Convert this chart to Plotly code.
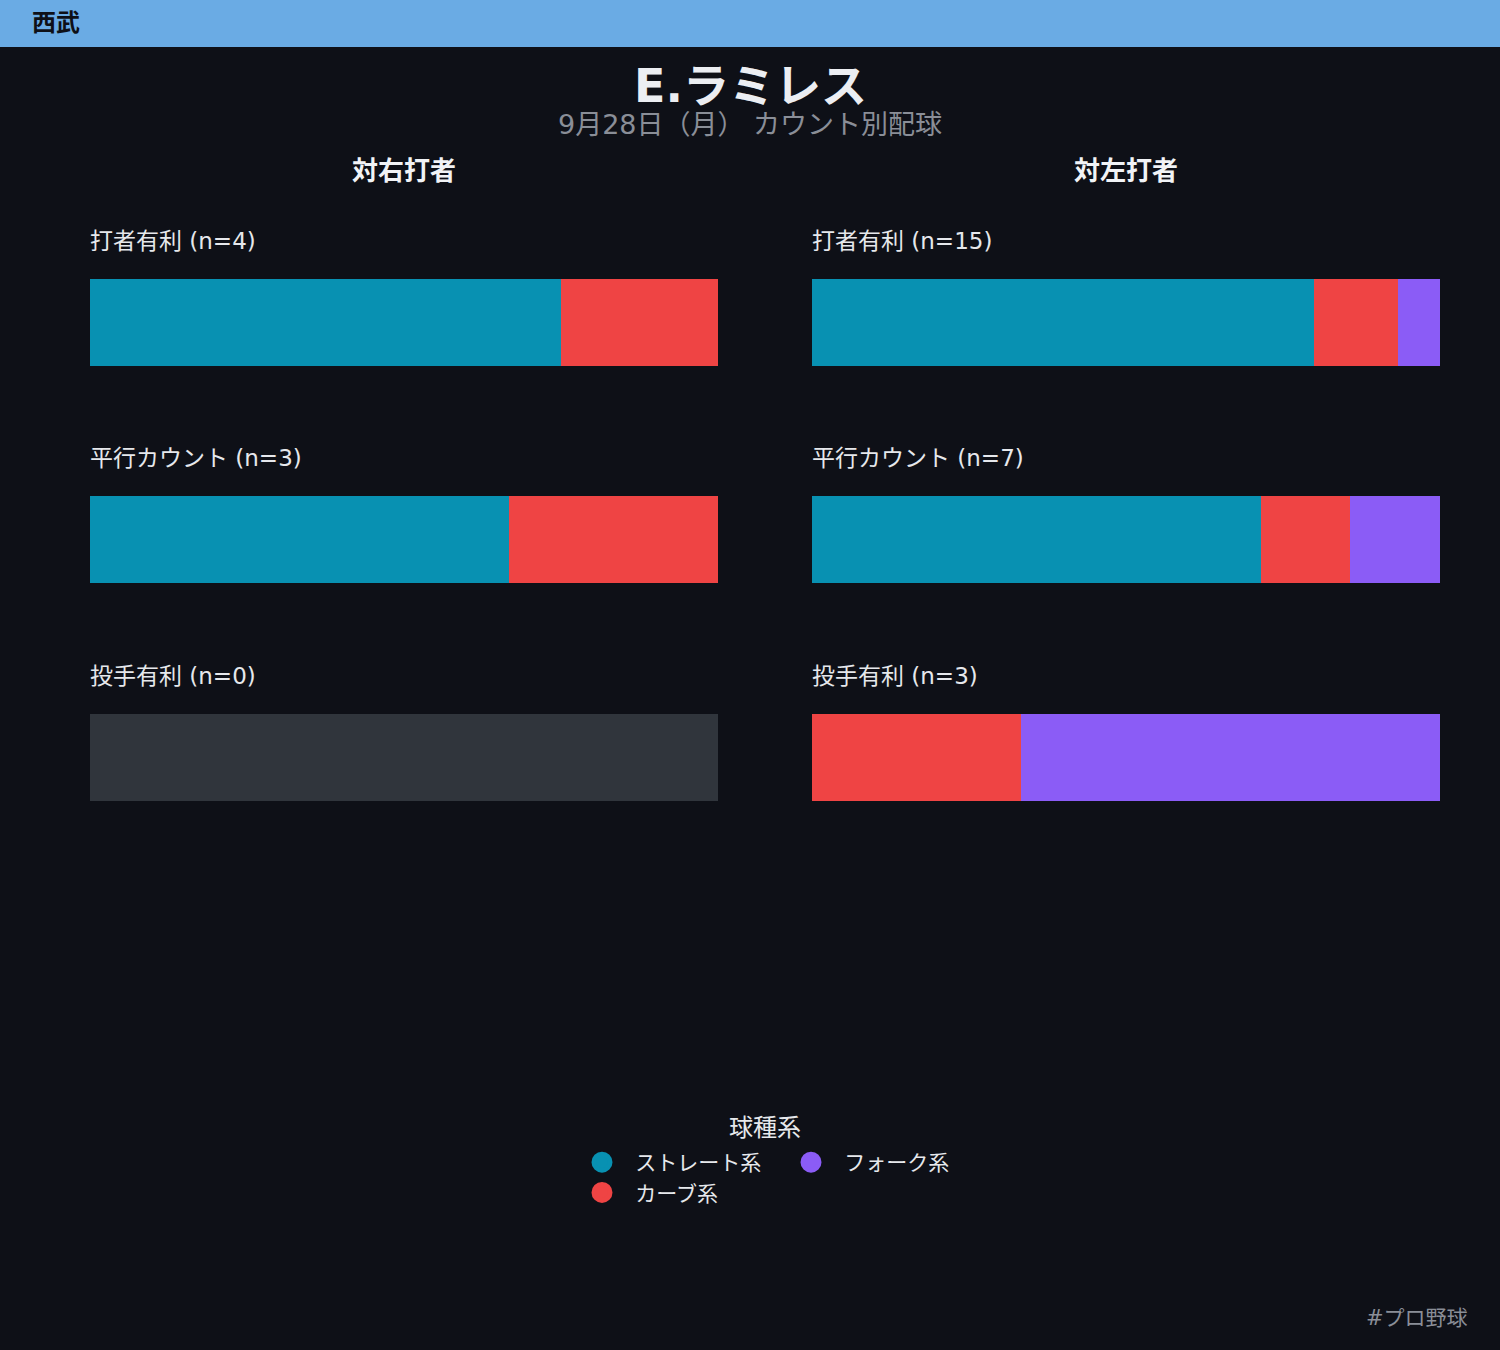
import plotly.graph_objects as go

# pitch counts by count situation (straight / curve / fork)
situations = ["打者有利", "平行カウント", "投手有利"]
pitch_types = ["ストレート系", "カーブ系", "フォーク系"]
colors = ["#0891b2", "#ef4444", "#8b5cf6"]

vs_right = [[3, 1, 0], [2, 1, 0], [0, 0, 0]]
vs_left = [[12, 2, 1], [5, 1, 1], [0, 1, 2]]

sides = ["対右打者", "対左打者"]
side_data = [vs_right, vs_left]

W, H = 1500, 1350
BG = "#0e1017"
FONT = "DejaVu Sans, Noto Sans CJK JP, sans-serif"

col_px = [(90, 718), (812, 1440)]
row_px = [(279, 366), (496, 583), (714, 801)]

fig = go.Figure()
layout = {}
annotations = []

k = 0
for c, data in enumerate(side_data):
    x0, x1 = col_px[c]
    annotations.append(dict(
        x=(x0 + x1) / 2 / W, y=1 - 171 / H, xref="paper", yref="paper",
        text="<b>" + sides[c] + "</b>", showarrow=False,
        font=dict(size=26, color="#f1f3f6"), xanchor="center", yanchor="middle"))
    for r, counts in enumerate(data):
        k += 1
        xa = "x" if k == 1 else f"x{k}"
        ya = "y" if k == 1 else f"y{k}"
        y0, y1 = row_px[r]
        n = sum(counts)
        if n == 0:
            fig.add_trace(go.Bar(x=[1], y=[0], orientation="h", width=1,
                                 marker=dict(color="#30353c", line_width=0),
                                 xaxis=xa, yaxis=ya, showlegend=False,
                                 hoverinfo="skip"))
        else:
            for i, cnt in enumerate(counts):
                if cnt == 0:
                    continue
                fig.add_trace(go.Bar(x=[cnt / n], y=[0], orientation="h", width=1,
                                     marker=dict(color=colors[i], line_width=0),
                                     xaxis=xa, yaxis=ya, showlegend=False,
                                     name=pitch_types[i]))
        layout["xaxis" if k == 1 else f"xaxis{k}"] = dict(
            domain=[x0 / W, x1 / W], range=[0, 1], visible=False,
            anchor=ya, fixedrange=True)
        layout["yaxis" if k == 1 else f"yaxis{k}"] = dict(
            domain=[1 - y1 / H, 1 - y0 / H], range=[-0.5, 0.5], visible=False,
            anchor=xa, fixedrange=True)
        annotations.append(dict(
            x=(x0 - 2) / W, y=1 - (y0 - 38) / H, xref="paper", yref="paper",
            text=f"{situations[r]} (n={n})", showarrow=False,
            font=dict(size=23, color="#e6e8ec"), xanchor="left", yanchor="middle"))

# legend: column 1 = straight, curve ; column 2 = fork
legend_of = ["legend", "legend", "legend2"]
for i in range(3):
    fig.add_trace(go.Scatter(x=[None], y=[None], mode="markers",
                             name="\u00a0\u00a0" + pitch_types[i],
                             marker=dict(color=colors[i], size=16, symbol="circle",
                                         line=dict(color=colors[i], width=5)),
                             legend=legend_of[i], showlegend=True))

annotations += [
    dict(x=30 / W, y=1 - 23 / H, xref="paper", yref="paper", text="<b>西武</b>",
         showarrow=False, font=dict(size=24, color="#0e1017"),
         xanchor="left", yanchor="middle"),
    dict(x=0.5, y=1 - 86 / H, xref="paper", yref="paper", text="<b>E.ラミレス</b>",
         showarrow=False, font=dict(size=46, color="#eceef2"),
         xanchor="center", yanchor="middle"),
    dict(x=0.5, y=1 - 125 / H, xref="paper", yref="paper",
         text="9月28日（月） カウント別配球", showarrow=False,
         font=dict(size=27, color="#8a8e97"), xanchor="center", yanchor="middle"),
    dict(x=765 / W, y=1 - 1128 / H, xref="paper", yref="paper", text="球種系",
         showarrow=False, font=dict(size=24, color="#e6e8ec"),
         xanchor="center", yanchor="middle"),
    dict(x=1470 / W, y=1 - 1318 / H, xref="paper", yref="paper", text="#プロ野球",
         showarrow=False, font=dict(size=21, color="#8a8e97"),
         xanchor="right", yanchor="middle"),
]

legend_style = dict(orientation="v", yanchor="top", xanchor="left",
                    font=dict(size=21, color="#e6e8ec"), itemsizing="trace",
                    bgcolor="rgba(0,0,0,0)", borderwidth=0, tracegroupgap=0,
                    traceorder="normal")

fig.update_layout(
    **layout,
    width=W, height=H,
    margin=dict(l=0, r=0, t=0, b=0),
    paper_bgcolor=BG, plot_bgcolor=BG,
    font=dict(family=FONT, color="#e6e8ec"),
    barmode="stack",
    bargap=0,
    annotations=annotations,
    shapes=[dict(type="rect", xref="paper", yref="paper", x0=0, x1=1,
                 y0=1 - 47 / H, y1=1, fillcolor="#6aabe4", line_width=0, layer="below")],
    legend=dict(x=582 / W, y=1 - 1142 / H, **legend_style),
    legend2=dict(x=791 / W, y=1 - 1142 / H, **legend_style),
)

fig.write_html("out.html", config={"displayModeBar": False},
               post_script="document.body.style.margin='0';")
